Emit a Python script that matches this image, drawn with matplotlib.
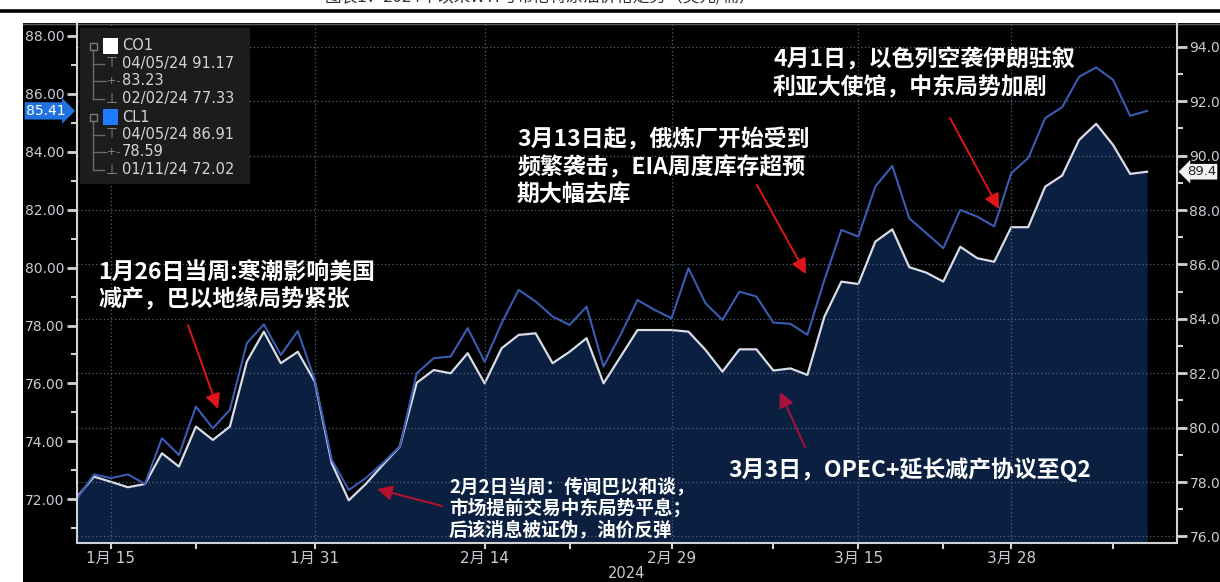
import numpy as np
import pandas as pd
import matplotlib
matplotlib.use('Agg')
import matplotlib.pyplot as plt
from matplotlib.patches import Rectangle, FancyArrowPatch
from matplotlib.lines import Line2D
from matplotlib.ticker import FormatStrFormatter

plt.rcParams['font.family'] = ['DejaVu Sans', 'Noto Sans CJK SC']
CJK = ['Noto Sans CJK SC', 'DejaVu Sans']

W, H = 1220, 582

# trading days (Good Friday has no settlement)
dates = pd.bdate_range('2024-01-11', '2024-04-10')
dates = dates[dates != pd.Timestamp('2024-03-29')]

# WTI front month, left axis
cl1 = [72.02, 72.86, 72.73, 72.86, 72.53, 74.11, 73.53, 75.20, 74.45, 75.09,
       77.39, 78.04, 76.98, 77.81, 76.12, 73.36, 72.32, 72.73, 73.25, 73.82,
       76.35, 76.87, 76.93, 77.91, 76.75, 78.08, 79.23, 78.83, 78.31, 78.02,
       78.65, 76.58, 77.68, 78.88, 78.54, 78.25, 79.98, 78.77, 78.19, 79.17,
       79.00, 78.10, 78.06, 77.68, 79.57, 81.30, 81.07, 82.80, 83.51, 81.70,
       81.19, 80.67, 81.99, 81.76, 81.42, 83.26, 83.78, 85.16, 85.54, 86.59,
       86.91, 86.48, 85.24, 85.41]

# Brent front month, right axis
co1 = [77.45, 78.20, 78.01, 77.81, 77.93, 79.06, 78.57, 80.04, 79.55, 80.04,
       82.43, 83.53, 82.37, 82.79, 81.69, 78.69, 77.33, 77.93, 78.63, 79.30,
       81.65, 82.12, 82.00, 82.74, 81.63, 82.92, 83.41, 83.47, 82.37, 82.79,
       83.29, 81.63, 82.61, 83.59, 83.59, 83.59, 83.53, 82.86, 82.06, 82.88,
       82.88, 82.10, 82.18, 81.94, 84.08, 85.37, 85.28, 86.84, 87.29, 85.90,
       85.70, 85.37, 86.65, 86.23, 86.10, 87.37, 87.37, 88.86, 89.27, 90.58,
       91.17, 90.39, 89.33, 89.41]

co1_avg = 83.23
cl1_avg = 78.59

major_days = ['2024-01-15', '2024-01-31', '2024-02-14', '2024-02-29',
              '2024-03-15', '2024-03-28']
minor_days = ['2024-01-22', '2024-02-21', '2024-03-08', '2024-03-22',
              '2024-04-08']

notes = [
    (98, 273, 27, 16.5, ['1月26日当周:寒潮影响美国', '减产，巴以地缘局势紧张']),
    (517, 140, 27.5, 16.5, ['3月13日起，俄炼厂开始受到', '频繁袭击，EIA周度库存超预', '期大幅去库']),
    (773, 60, 28, 16.5, ['4月1日，以色列空袭伊朗驻叙', '利亚大使馆，中东局势加剧']),
    (728, 470, 0, 16.5, ['3月3日，OPEC+延长减产协议至Q2']),
    (449, 487, 21.5, 13.4, ['2月2日当周：传闻巴以和谈，', '市场提前交易中东局势平息；', '后该消息被证伪，油价反弹']),
]
# (tail, head, colour) in pixels from the top-left corner
arrows = [
    ((188, 325), (218, 409), '#e0141a'),
    ((442, 506), (377, 489), '#b8102e'),
    ((757, 185), (806, 274), '#e0141a'),
    ((950, 118), (999, 209), '#e0141a'),
    ((805, 447), (780, 392), '#a8123a'),
]


def fp(px, py):
    return px / W, 1 - py / H


x = np.arange(len(dates))
dpos = {d: i for i, d in enumerate(dates.strftime('%Y-%m-%d'))}
major_idx = [dpos[d] for d in major_days]
minor_idx = [dpos[d] for d in minor_days]

fig = plt.figure(figsize=(W / 100, H / 100), dpi=100, facecolor='white')
fig.patches.append(Rectangle(fp(23, 582), 1 - 23 / W, (582 - 23) / H,
                             transform=fig.transFigure, fc='black', ec='none', zorder=-5))
fig.add_artist(Line2D([fp(23, 0)[0], 1], [fp(0, 23.5)[1]] * 2, color='#5a5a5a', lw=1, zorder=-4))
fig.add_artist(Line2D([0, 1], [fp(0, 10.5)[1]] * 2, color='black', lw=2.6))
fig.text(540 / W, 1 + 3 / H, '图表1：2024年以来WTI与布伦特原油价格走势（美元/桶）',
         family=CJK, fontsize=12, color='#333333', ha='center', va='center')

ax = fig.add_axes([77 / W, 1 - 543.3 / H, 1100 / W, 519.3 / H])
ax2 = ax.twinx()
ax.set_zorder(ax2.get_zorder() + 1)
ax.patch.set_visible(False)
ax2.patch.set_visible(False)

y2_lo, y2_hi = 75.75, 94.84
ax2.fill_between(x, y2_lo, co1, color='#0b2041', lw=0)
ax2.plot(x, co1, color='#d8dce6', lw=1.6)
ax.plot(x, cl1, color='#3a5cb2', lw=1.5)

ax.set_xlim(0, 64.76)
ax.set_ylim(70.48, 88.41)
ax2.set_ylim(y2_lo, y2_hi)

axis_c = '#d2d2d2'
lab_c = '#c8ccd4'
grid_kw = dict(color='#52617e', ls=(0, (1, 2)), lw=0.9)

ax.set_yticks(np.arange(72, 89, 2))
ax.set_yticks(np.arange(71, 89, 2), minor=True)
ax2.set_yticks(np.arange(76, 95, 2))
ax2.set_yticks(np.arange(77, 95, 2), minor=True)
ax.yaxis.set_major_formatter(FormatStrFormatter('%.2f'))
ax2.yaxis.set_major_formatter(FormatStrFormatter('%.1f'))

ax.set_xticks(major_idx)
ax.set_xticklabels([f'{dates[i].month}月 {dates[i].day}' for i in major_idx])
ax.set_xticks(minor_idx, minor=True)

for a in (ax, ax2):
    a.tick_params(axis='y', which='major', length=7, width=2, color=axis_c,
                  labelcolor=lab_c, labelsize=10, pad=2)
    a.tick_params(axis='y', which='minor', length=4, width=1.5, color=axis_c)
    for s in a.spines.values():
        s.set_visible(False)
ax.tick_params(axis='x', which='both', length=4, width=1.5, color=axis_c,
               labelcolor=lab_c, labelsize=11, pad=1.5)
ax.spines['left'].set_visible(True)
ax.spines['bottom'].set_visible(True)
ax2.spines['right'].set_visible(True)
for s in (ax.spines['left'], ax.spines['bottom'], ax2.spines['right']):
    s.set_color(axis_c)
    s.set_linewidth(1.5)

ax2.grid(axis='y', which='major', **grid_kw)
ax2.set_axisbelow('line')
ax.grid(axis='x', which='major', **grid_kw)
ax.set_axisbelow(True)

ax.text(0.5, -0.059, '2024', transform=ax.transAxes, ha='center', va='center',
        color=lab_c, fontsize=10.5)

# last-value tags on both axes
ax.annotate(f'{cl1[-1]:.2f}', xy=(0, cl1[-1]), xycoords=ax.get_yaxis_transform(),
            xytext=(-8, 0), textcoords='offset points', ha='right', va='center',
            color='white', fontsize=10, annotation_clip=False,
            bbox=dict(boxstyle='rarrow,pad=0.12', fc='#1f72e0', ec='none'))
ax2.annotate(f'{co1[-1]:.1f}', xy=(1, co1[-1]), xycoords=ax2.get_yaxis_transform(),
             xytext=(7, 0), textcoords='offset points', ha='left', va='center',
             color='#222222', fontsize=9.5, annotation_clip=False,
             bbox=dict(boxstyle='larrow,pad=0.1', fc='#f2f2f2', ec='none'))

# legend panel with high / average / low
fig.patches.append(Rectangle(fp(80, 184), 170 / W, 156 / H, transform=fig.transFigure,
                             fc='#1c1c1c', ec='none', zorder=2))
i_hi, i_lo = int(np.argmax(co1)), int(np.argmin(co1))
j_hi, j_lo = int(np.argmax(cl1)), int(np.argmin(cl1))
fmt = lambda i, v: f"{dates[i].strftime('%m/%d/%y')} {v[i]:.2f}"
groups = [
    (46, 'CO1', 'white', [fmt(i_hi, co1), f'{co1_avg:.2f}', fmt(i_lo, co1)]),
    (117, 'CL1', '#1f7bff', [fmt(j_hi, cl1), f'{cl1_avg:.2f}', fmt(j_lo, cl1)]),
]
for y0, name, col, rows in groups:
    fig.patches.append(Rectangle(fp(89.5, y0 + 3.5), 7 / W, 7 / H, transform=fig.transFigure,
                                 fc='none', ec='#7a7a7a', lw=1, zorder=3))
    fig.patches.append(Rectangle(fp(103, y0 + 7.5), 15 / W, 15 / H, transform=fig.transFigure,
                                 fc=col, ec='none', zorder=3))
    fig.add_artist(Line2D([fp(93, 0)[0]] * 2, [fp(0, y0 + 4)[1], fp(0, y0 + 53)[1]],
                          color='#6a6a6a', lw=1, zorder=3))
    fig.text(*fp(122, y0), name, fontsize=10.5, color='#d4d4d4', va='center', zorder=4)
    for k, (sym, txt) in enumerate(zip(['⊤', '-+-', '⊥'], rows)):
        yy = y0 + 17.5 * (k + 1)
        fig.add_artist(Line2D([fp(93, 0)[0], fp(104, 0)[0]], [fp(0, yy)[1]] * 2,
                              color='#6a6a6a', lw=1, zorder=3))
        fig.text(*fp(112, yy), sym, fontsize=8 if k == 1 else 10, color='#8a8a8a',
                 ha='center', va='center', zorder=4)
        fig.text(*fp(122, yy), txt, fontsize=10.5, color='#d4d4d4', va='center', zorder=4)

# event notes
for px, py, step, size, lines in notes:
    for k, line in enumerate(lines):
        fig.text(*fp(px, py + k * step), line, family=CJK, fontsize=size,
                 fontweight='bold', color='white', va='center', zorder=5)
for tail, head, col in arrows:
    fig.add_artist(FancyArrowPatch(
        fp(*tail), fp(*head), transform=fig.transFigure,
        arrowstyle='-|>,head_length=9,head_width=4.5', color=col, lw=1.4,
        shrinkA=0, shrinkB=0, zorder=6))

fig.savefig('out.png', dpi=100, facecolor=fig.get_facecolor())
